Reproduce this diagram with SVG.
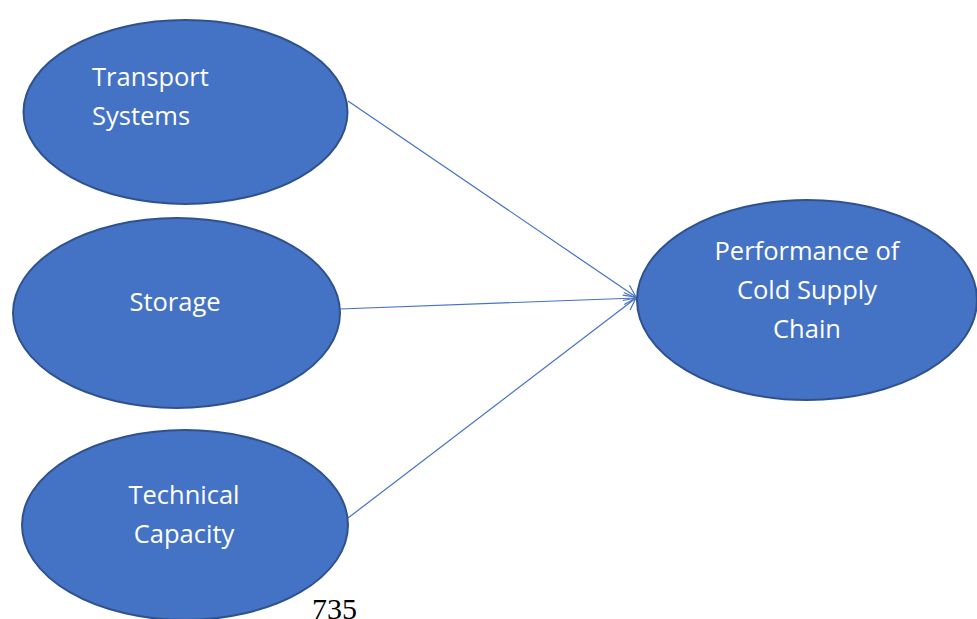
<svg xmlns="http://www.w3.org/2000/svg" width="977" height="619" viewBox="0 0 977 619">
<style>
.node{fill:#4472C4;stroke:#2F528F;stroke-width:2}
.lbl{fill:#ffffff;font-family:"Open Sans","Liberation Sans",sans-serif;font-size:25.5px}
.edge{stroke:#4472C4;stroke-width:1.2;fill:none}
</style>
<defs>
<marker id="arr" markerWidth="16" markerHeight="14" refX="13" refY="7" orient="auto" markerUnits="userSpaceOnUse">
<path d="M1,1 L13,7 L1,13" fill="none" stroke="#4472C4" stroke-width="1.2"/>
</marker>
</defs>
<g id="connectors">
<line class="edge" x1="348" y1="101" x2="636" y2="297" marker-end="url(#arr)"/>
<line class="edge" x1="340" y1="309" x2="636" y2="298" marker-end="url(#arr)"/>
<line class="edge" x1="348" y1="518" x2="636" y2="298" marker-end="url(#arr)"/>
</g>
<g id="transport">
<ellipse class="node" cx="185.5" cy="112" rx="162" ry="92"/>
<text class="lbl" x="92" y="86">Transport</text>
<text class="lbl" x="92" y="125">Systems</text>
</g>
<g id="storage">
<ellipse class="node" cx="176.5" cy="313" rx="163.5" ry="95"/>
<text class="lbl" x="175" y="311" text-anchor="middle">Storage</text>
</g>
<g id="technical">
<ellipse class="node" cx="185" cy="525" rx="163" ry="95"/>
<text class="lbl" x="184" y="504" text-anchor="middle">Technical</text>
<text class="lbl" x="184" y="543" text-anchor="middle">Capacity</text>
</g>
<g id="performance">
<ellipse class="node" cx="807" cy="300" rx="170" ry="100"/>
<text class="lbl" x="807" y="260" text-anchor="middle">Performance of</text>
<text class="lbl" x="807" y="299" text-anchor="middle">Cold Supply</text>
<text class="lbl" x="807" y="338" text-anchor="middle">Chain</text>
</g>
<text x="312" y="619" font-family="Liberation Serif,serif" font-size="30" fill="#000">735</text>
</svg>
